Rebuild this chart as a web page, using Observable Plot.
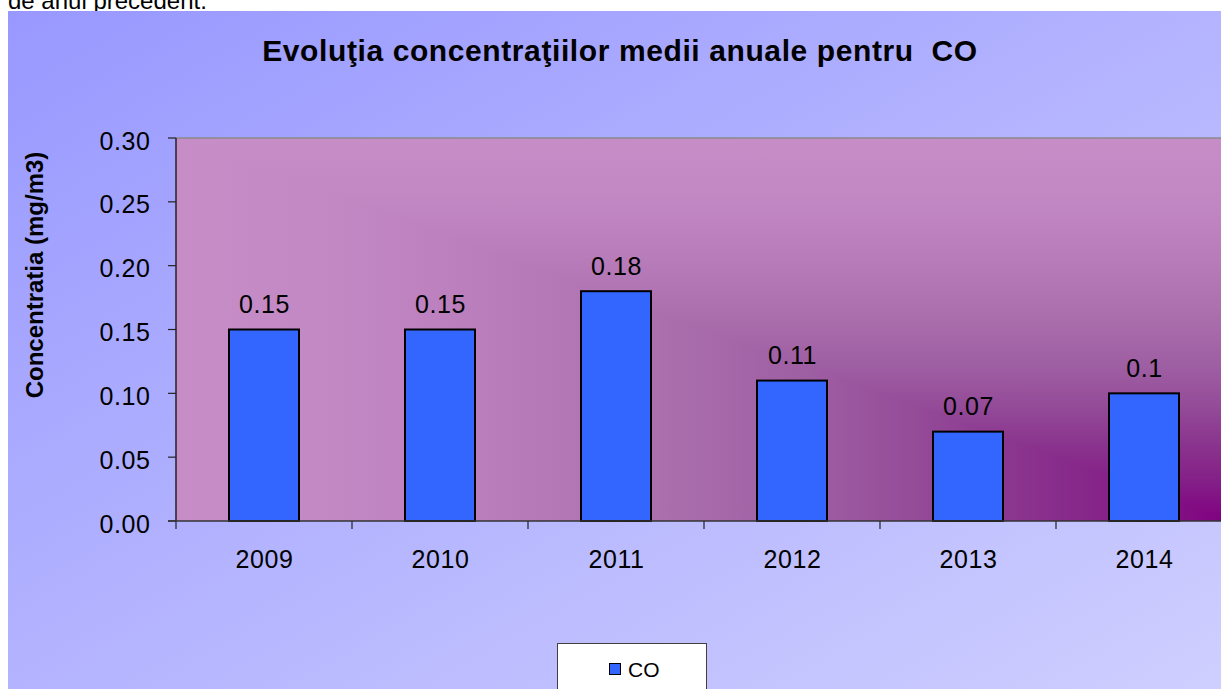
<!DOCTYPE html>
<html>
<head>
<meta charset="utf-8">
<script src="https://cdn.jsdelivr.net/npm/d3@7"></script>
<script src="https://cdn.jsdelivr.net/npm/@observablehq/plot@0.6"></script>
<style>
  html, body { margin: 0; padding: 0; width: 1221px; height: 689px; overflow: hidden; background: #fff; }
  body { position: relative; font-family: "Liberation Sans", Arial, sans-serif; color: #000; }
  #pre { position: absolute; left: 8px; top: -11px; font-size: 24px; line-height: 24px; white-space: nowrap; }
  #chart { position: absolute; left: 8px; top: 11px; width: 1240px; height: 700px;
           background: linear-gradient(to bottom right, #9898FF 0%, #B4B4FF 50%, #D0D0FF 100%); }
  #title { position: absolute; left: 0; top: 36px; width: 1240px; text-align: center;
           font-weight: bold; font-size: 30px; line-height: 30px; letter-spacing: 0.6px; white-space: pre; }
  #ylabel { position: absolute; left: 35px; top: 275px; transform: translate(-50%, -50%) rotate(-90deg);
            font-weight: bold; font-size: 24px; line-height: 24px; white-space: nowrap; }
  #legend { position: absolute; left: 557px; top: 643px; width: 148px; height: 60px; background: #fff;
            border: 1px solid #404040; }
  #legend .sw { position: absolute; left: 51px; top: 19px; width: 10px; height: 10px; background: #3366FF;
                border: 1.5px solid #000; }
  #legend .lt { position: absolute; left: 70px; top: 15px; font-size: 21px; line-height: 21px; }
  #plot { position: absolute; left: 0; top: 0; width: 1240px; height: 689px; }
  #plot svg { max-width: none !important; width: 1240px; height: 689px; }
  #plot svg text { letter-spacing: 0.6px; }
</style>
</head>
<body>
<div id="pre">de anul precedent.</div>
<div id="chart"></div>
<div id="plot"></div>
<div id="title">Evoluţia concentraţiilor medii anuale pentru  CO</div>
<div id="ylabel">Concentratia (mg/m3)</div>
<div id="legend"><div class="sw"></div><div class="lt">CO</div></div>
<script>
// ---- data ----
const years = ["2009", "2010", "2011", "2012", "2013", "2014"];
const values = [0.15, 0.15, 0.18, 0.11, 0.07, 0.1];
const valueLabels = ["0.15", "0.15", "0.18", "0.11", "0.07", "0.1"];
const yTicks = [0, 0.05, 0.10, 0.15, 0.20, 0.25, 0.30];

const data = years.map((year, i) => ({year, value: values[i], label: valueLabels[i]}));

// gradient stops for plot area (purple at bottom-right corner -> pink outward)
const gradStops = [
  [0, "#800080"], [0.1, "#841E87"], [0.2, "#8A348E"], [0.3, "#944B98"], [0.4, "#9E5EA2"],
  [0.55, "#AC70AE"], [0.7, "#B97DBB"], [0.85, "#C288C4"], [1, "#C78DC7"]
];

function plotBackground(index, scales, values, dims) {
  const {width, height, marginLeft, marginRight, marginTop, marginBottom} = dims;
  const x = marginLeft, y = marginTop;
  const w = width - marginLeft - marginRight, h = height - marginTop - marginBottom;
  const g = d3.create("svg:g").style("isolation", "isolate");
  const defs = g.append("defs");
  const addGrad = (id, x1, y1, x2, y2) => {
    const lg = defs.append("linearGradient").attr("id", id)
      .attr("x1", x1).attr("y1", y1).attr("x2", x2).attr("y2", y2);
    gradStops.forEach(([o, c]) => lg.append("stop").attr("offset", o).attr("stop-color", c));
  };
  addGrad("gradX", 1, 0, 0, 0);
  addGrad("gradY", 0, 1, 0, 0);
  g.append("rect").attr("x", x).attr("y", y).attr("width", w).attr("height", h).attr("fill", "url(#gradX)");
  g.append("rect").attr("x", x).attr("y", y).attr("width", w).attr("height", h).attr("fill", "url(#gradY)")
    .style("mix-blend-mode", "lighten");
  return g.node();
}

function plotAxes(index, scales, values, dims) {
  const {width, height, marginLeft, marginRight, marginTop, marginBottom} = dims;
  const left = marginLeft, right = width - marginRight, bottom = height - marginBottom, top = marginTop;
  const g = d3.create("svg:g").attr("fill", "none");
  g.append("line").attr("x1", left).attr("x2", right).attr("y1", top).attr("y2", top)
    .attr("stroke", "#8a8a8a").attr("stroke-width", 1.5);
  yTicks.forEach(t => {
    const yy = scales.y(t);
    g.append("line").attr("x1", left - 8).attr("x2", left).attr("y1", yy).attr("y2", yy)
      .attr("stroke", "#222").attr("stroke-width", 1.2);
  });
  const step = scales.x.step(), bw = scales.x.bandwidth();
  const bounds = years.map(v => scales.x(v) - (step - bw) / 2);
  bounds.push(scales.x(years[years.length - 1]) + bw + (step - bw) / 2);
  bounds.forEach(b => {
    g.append("line").attr("x1", b).attr("x2", b).attr("y1", bottom).attr("y2", bottom + 8)
      .attr("stroke", "#222").attr("stroke-width", 1.2);
  });
  g.append("line").attr("x1", left).attr("x2", left).attr("y1", top).attr("y2", bottom)
    .attr("stroke", "#222").attr("stroke-width", 1.5);
  g.append("line").attr("x1", left - 8).attr("x2", right).attr("y1", bottom).attr("y2", bottom)
    .attr("stroke", "#333").attr("stroke-width", 1.5);
  return g.node();
}

const chart = Plot.plot({
  width: 1240,
  height: 689,
  marginLeft: 176,
  marginRight: 7,
  marginTop: 138,
  marginBottom: 168,
  style: {background: "transparent", fontFamily: "'Liberation Sans', Arial, sans-serif", color: "#000", overflow: "visible", maxWidth: "none"},
  x: {domain: years, paddingInner: 0.6, paddingOuter: 0.3, align: 0.5, label: null},
  y: {domain: [0, 0.3], label: null},
  marks: [
    plotBackground,
    Plot.barY(data, {x: "year", y: "value", fill: "#3366FF", stroke: "#000", strokeWidth: 2}),
    Plot.text(data, {x: "year", y: "value", text: "label", dy: -17, lineAnchor: "bottom", fontSize: 25, fill: "#000"}),
    plotAxes,
    Plot.axisY({ticks: yTicks, tickSize: 0, tickPadding: 26, tickFormat: d3.format(".2f"), dy: 3, fontSize: 25, label: null}),
    Plot.axisX({tickSize: 0, tickPadding: 29, fontSize: 25, label: null})
  ]
});
document.getElementById("plot").appendChild(chart);
</script>
</body>
</html>
